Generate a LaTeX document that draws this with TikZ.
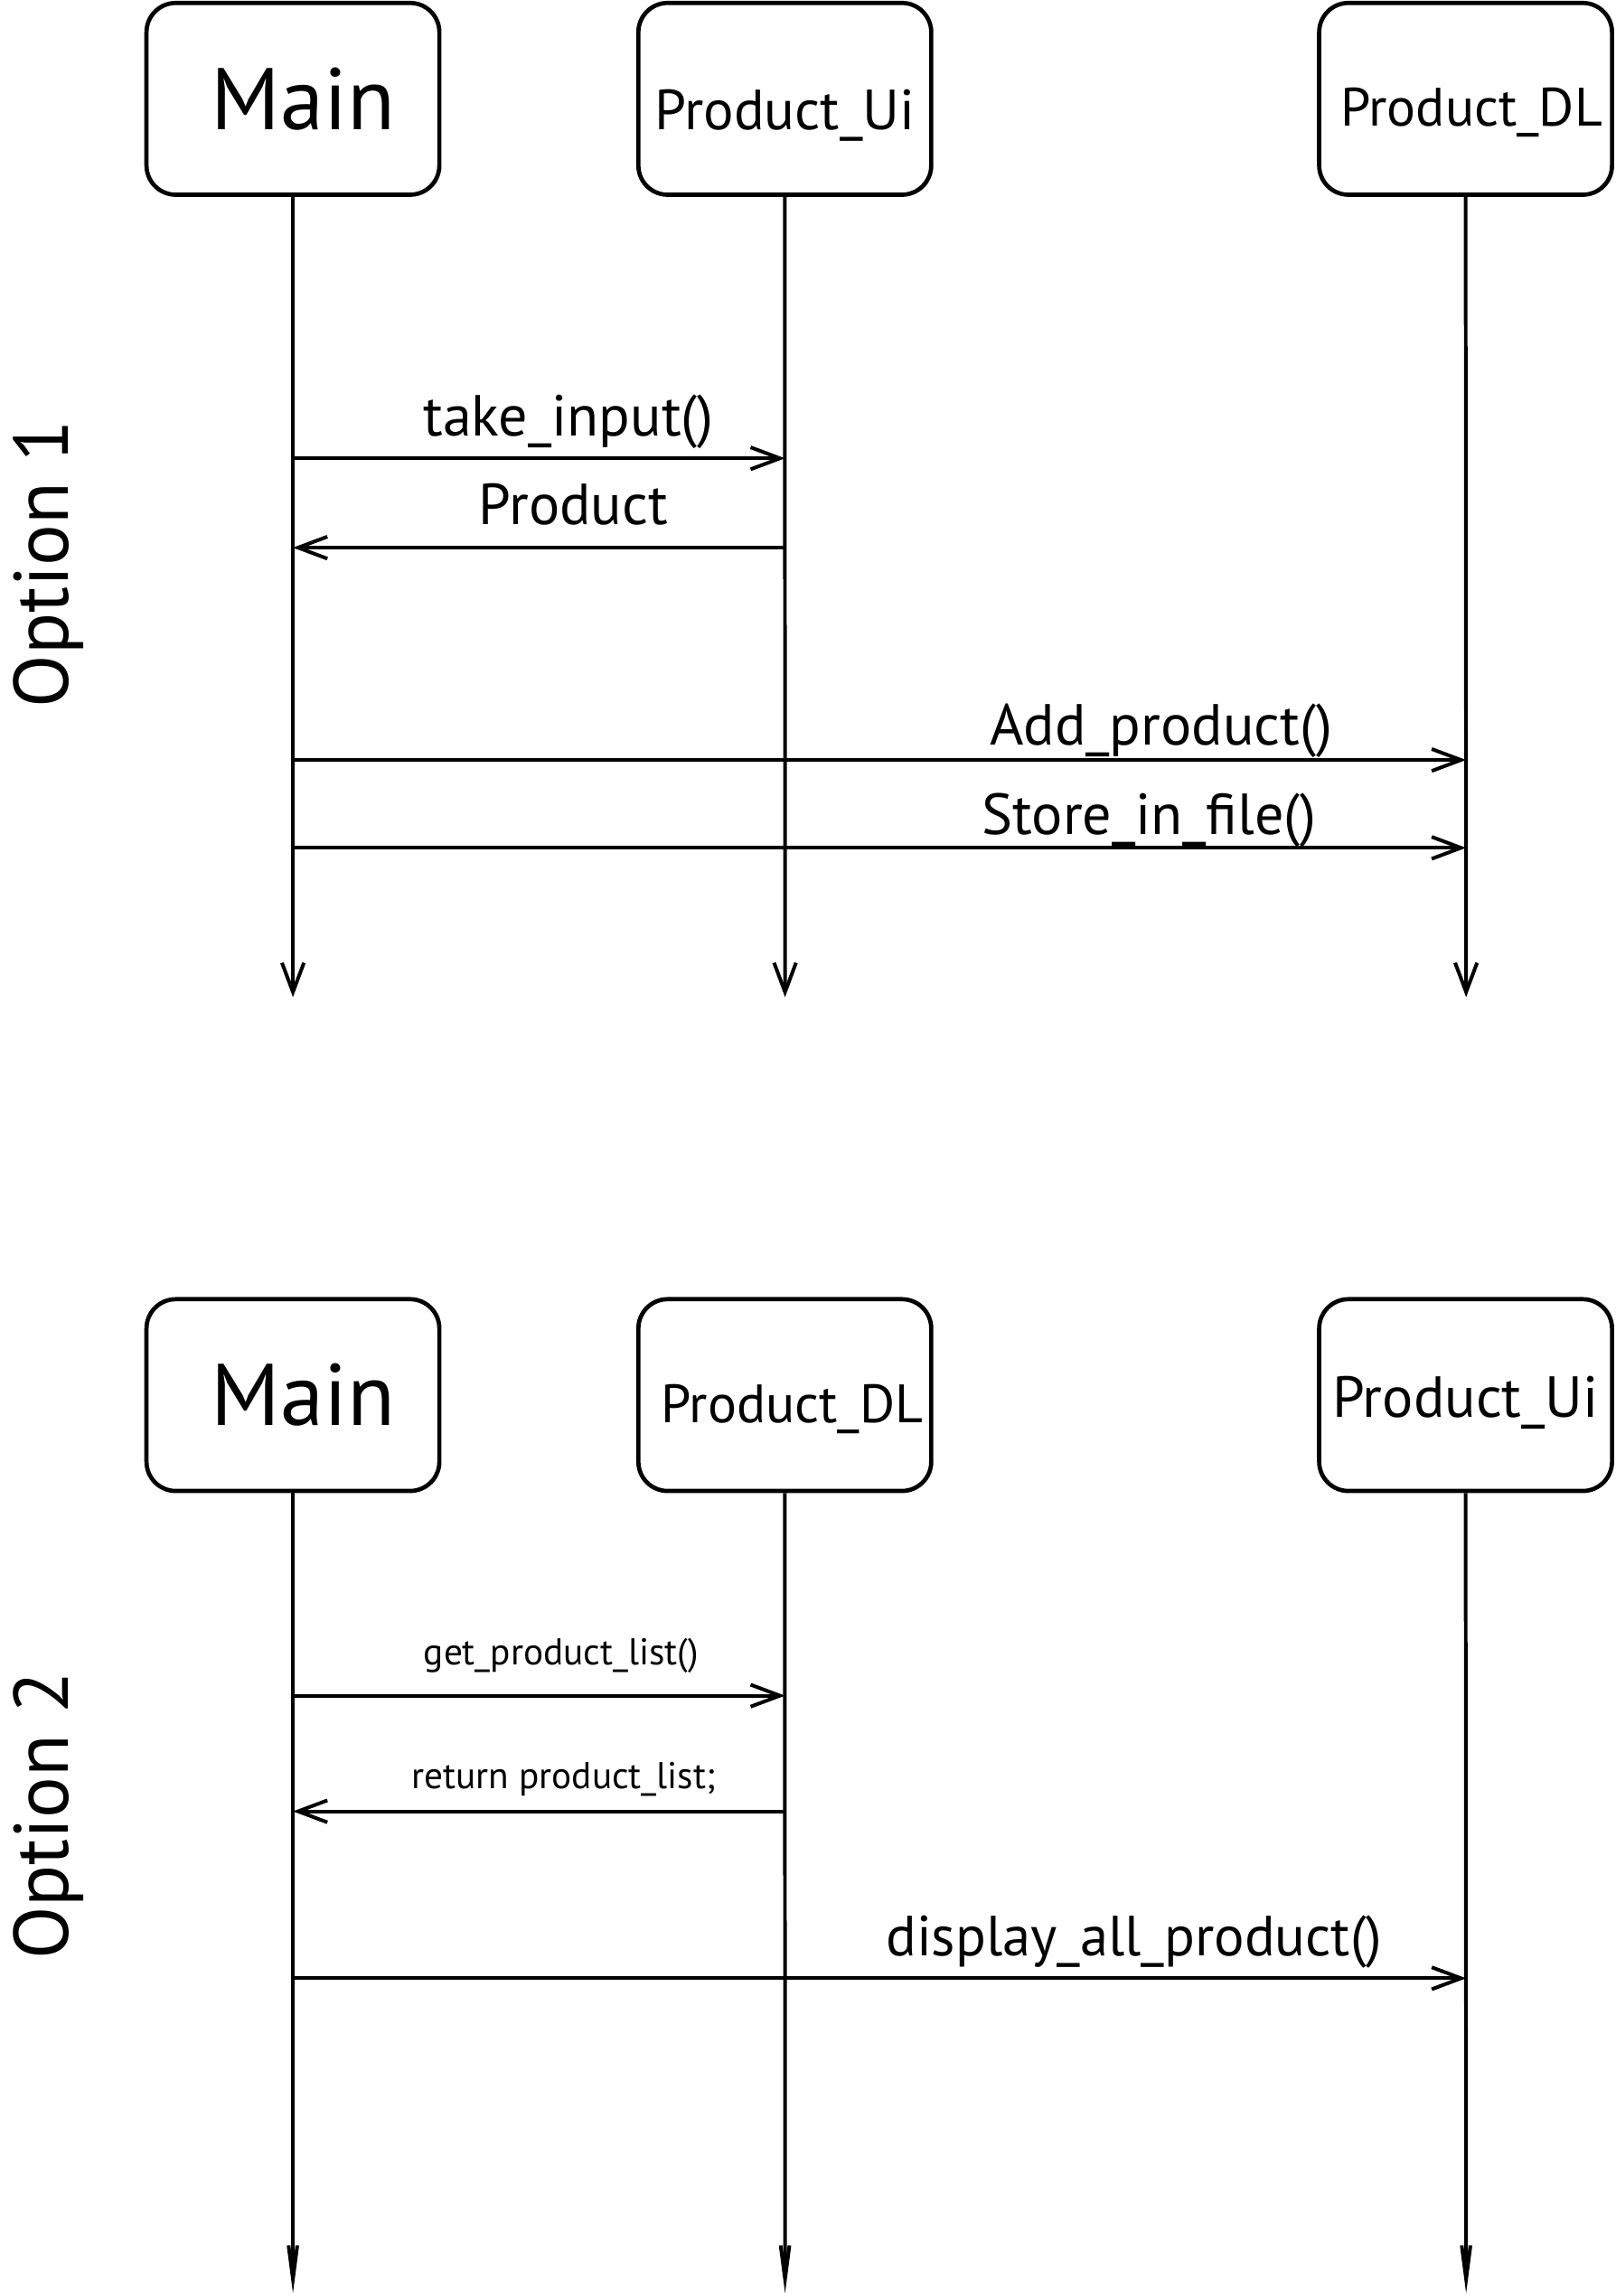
\documentclass[tikz,border=0pt]{standalone}
\usepackage{fontspec}
\setmainfont{PT Sans}
\usepackage{tikz}
\usetikzlibrary{positioning}
\usetikzlibrary{arrows.meta}

\begin{document}
\begin{tikzpicture}[x=0.02cm,y=-0.02cm,line width=1.4pt,>={Straight Barb[length=4mm,width=3mm]}]
\tikzstyle{every node}=[font=\fontsize{22.5}{27}\selectfont]
\tikzstyle{obj}=[draw,rounded corners=0.4cm,line width=1.65pt,minimum width=4cm,minimum height=2.62cm,inner sep=0pt,text height=22pt,text depth=0pt]
\tikzstyle{big}=[font=\fontsize{34}{40}\selectfont,text height=23.8pt]
\tikzstyle{msg}=[anchor=base,yshift=0.31cm]
\tikzstyle{small}=[font=\fontsize{14.5}{17}\selectfont]
\tikzstyle{opt}=[rotate=90,font=\fontsize{30}{36}\selectfont]
\path[use as bounding box] (0,0) rectangle (1103,1568);

% Option 1
\path node[opt] (opt1) at (33,385) {Option 1};
\path node[obj,big] (main1) at (200,67.5) {\hspace*{0.28cm}Main};
\path node[obj,right=2.66cm of main1,font=\fontsize{22}{26}\selectfont,text height=24pt] (ui1) {Product\_Ui};
\path node[obj,right=5.24cm of ui1,font=\fontsize{21}{25}\selectfont,text height=21.5pt] (dl1) {\hspace*{0.16cm}Product\_DL};
\coordinate (main1end) at (200,681);
\coordinate (ui1end) at (536,681);
\coordinate (dl1end) at (1001,681);
\path[->,draw] (main1) edge (main1end);
\path[->,draw] (ui1) edge (ui1end);
\path[->,draw] (dl1) edge (dl1end);
\coordinate (m1a) at (200,313);
\coordinate (u1a) at (536,313);
\coordinate (m1b) at (200,374);
\coordinate (u1b) at (536,374);
\coordinate (m1c) at (200,519);
\coordinate (d1c) at (1001,519);
\coordinate (m1d) at (200,579);
\coordinate (d1d) at (1001,579);
\path[->] (m1a) edge node[msg,pos=.56] {take\_input()} (u1a);
\path[->] (u1b) edge node[msg,pos=.43] {Product} (m1b);
\path[->] (m1c) edge node[msg,pos=.74,yshift=-0.11cm] {Add\_product()} (d1c);
\path[->] (m1d) edge node[msg,pos=.73,yshift=-0.13cm] {Store\_in\_file()} (d1d);

% Option 2
\path node[opt] (opt2) at (33,1240) {Option 2};
\path node[obj,big,below=15.03cm of main1] (main2) {\hspace*{0.28cm}Main};
\path node[obj,right=2.66cm of main2,font=\fontsize{21}{25}\selectfont,text height=21.5pt] (dl2) {\hspace*{0.2cm}Product\_DL};
\path node[obj,right=5.24cm of dl2,font=\fontsize{22.5}{27}\selectfont,text height=17pt] (ui2) {Product\_Ui};
\coordinate (main2end) at (200,1566);
\coordinate (dl2end) at (536,1566);
\coordinate (ui2end) at (1001,1566);
\path[-{Straight Barb[length=4.6mm,width=1.2mm]},draw] (main2) edge (main2end);
\path[-{Straight Barb[length=4.6mm,width=1.2mm]},draw] (dl2) edge (dl2end);
\path[-{Straight Barb[length=4.6mm,width=1.2mm]},draw] (ui2) edge (ui2end);
\coordinate (m2a) at (200,1158);
\coordinate (d2a) at (536,1158);
\coordinate (m2b) at (200,1237);
\coordinate (d2b) at (536,1237);
\coordinate (m2c) at (200,1351);
\coordinate (u2c) at (1001,1351);
\path[->] (m2a) edge node[msg,small,pos=.545,yshift=0.11cm] {get\_product\_list()} (d2a);
\path[->] (d2b) edge node[msg,small,pos=.45] {return product\_list;} (m2b);
\path[->] (m2c) edge node[msg,pos=.717,font=\fontsize{22}{26}\selectfont] {display\_all\_product()} (u2c);
\end{tikzpicture}
\end{document}
